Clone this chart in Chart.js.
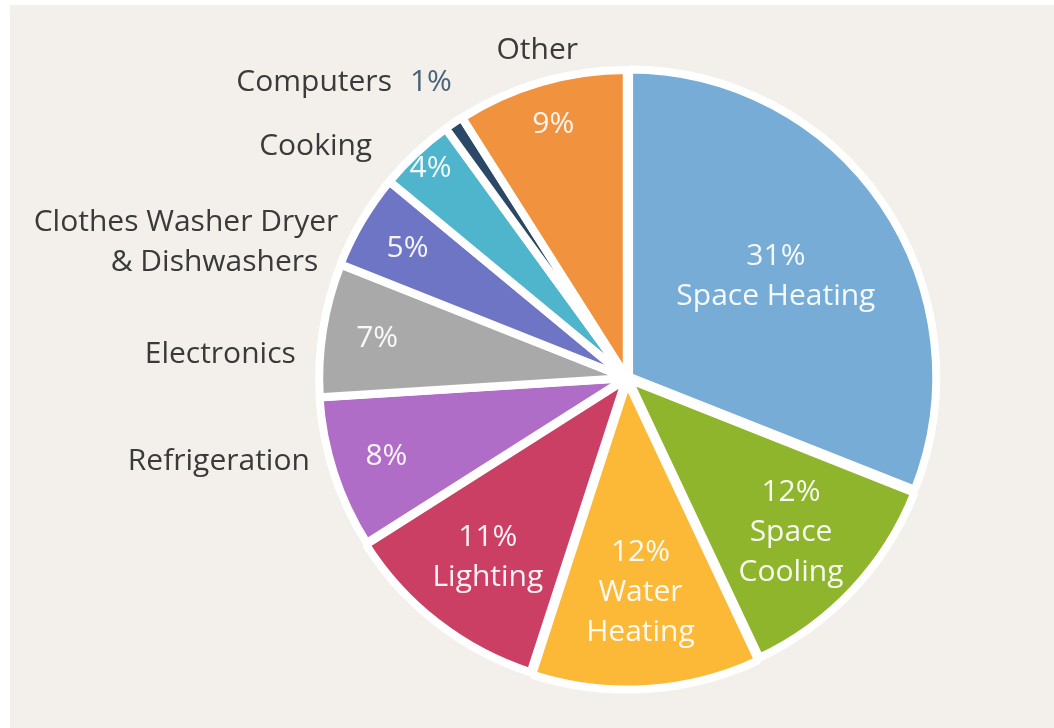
<!DOCTYPE html>
<html>
<head>
<meta charset="utf-8">
<script src="https://cdn.jsdelivr.net/npm/chart.js"></script>
<style>
  html, body { margin: 0; padding: 0; background: #ffffff; }
  #wrap { position: absolute; left: 10px; top: 5px; width: 1044px; height: 723px; background: #f3f0eb; }
</style>
</head>
<body>
<div id="wrap"><canvas id="pie" width="1044" height="723"></canvas></div>
<script>
// data, clockwise from 12 o'clock
const categories = ['Space Heating', 'Space Cooling', 'Water Heating', 'Lighting', 'Refrigeration',
  'Electronics', 'Clothes Washer Dryer & Dishwashers', 'Cooking', 'Computers', 'Other'];
const shares = [31, 12, 12, 11, 8, 7, 5, 4, 1, 9];
const colors = ['#76acd5', '#8fb52c', '#fbb937', '#cc3f64', '#b06dc7',
  '#a9a9a9', '#6e75c5', '#4fb5cc', '#2b4866', '#f1923f'];
const sliceOffsets = [10, 8, 14, 8, 3, 2, 3, 3, 3, 3];

// text inside slices: [lines, radius px from centre]
const insideText = {
  0: [['31%', 'Space Heating'], 180],
  1: [['12%', 'Space', 'Cooling'], 225],
  2: [['12%', 'Water', 'Heating'], 215],
  3: [['11%', 'Lighting'], 227],
  4: [['8%'], 253],
  5: [['7%'], 253],
  6: [['5%'], 255],
  7: [['4%'], 287],
  9: [['9%'], 264]
};
// category names outside: [lines, radius, angle nudge deg, align, x shifts]
const outsideText = {
  9: [['Other'], 340, 0.9, 'center', [0]],
  8: [['Computers'], 373, -3.3, 'right', [-8]],
  7: [['Cooking'], 344, -4.6, 'right', [0]],
  6: [['Clothes Washer Dryer', '& Dishwashers'], 319, -5.4, 'right', [0, -20]],
  5: [['Electronics'], 332, -5, 'right', [0]],
  4: [['Refrigeration'], 328, 3.2, 'right', [0]]
};

const FONT = '30px "Open Sans", "Noto Sans", sans-serif';

const labelPlugin = {
  id: 'sliceLabels',
  afterDatasetsDraw(chart) {
    const ctx = chart.ctx;
    const arcs = chart.getDatasetMeta(0).data;
    ctx.save();
    ctx.font = FONT;
    ctx.textBaseline = 'middle';
    arcs.forEach((arc, i) => {
      const mid = (arc.startAngle + arc.endAngle) / 2;
      const inTxt = insideText[i];
      if (inTxt) {
        const [lines, r] = inTxt;
        const cx = arc.x + Math.cos(mid) * r;
        const cy = arc.y + Math.sin(mid) * r;
        ctx.fillStyle = 'rgba(255,255,255,0.93)';
        ctx.textAlign = 'center';
        lines.forEach((t, k) => {
          ctx.fillText(t, cx, cy + (k - (lines.length - 1) / 2) * 40);
        });
      }
      const outTxt = outsideText[i];
      if (outTxt) {
        const [lines, r, nudge, align, shifts] = outTxt;
        const a = mid + nudge * Math.PI / 180;
        const ax = arc.x + Math.cos(a) * r;
        const ay = arc.y + Math.sin(a) * r;
        ctx.fillStyle = '#3a3a3a';
        ctx.textAlign = align;
        lines.forEach((t, k) => {
          ctx.fillText(t, ax + shifts[k], ay + (k - (lines.length - 1) / 2) * 40);
        });
        if (i === 8) {
          ctx.fillStyle = '#476377';
          ctx.textAlign = 'left';
          ctx.fillText(shares[i] + '%', ax + 10, ay);
        }
      }
    });
    ctx.restore();
  }
};

new Chart(document.getElementById('pie'), {
  type: 'pie',
  data: {
    labels: categories,
    datasets: [{
      data: shares,
      backgroundColor: colors,
      borderColor: '#ffffff',
      borderWidth: 8,
      offset: sliceOffsets
    }]
  },
  options: {
    responsive: false,
    animation: false,
    radius: 307,
    layout: { padding: { left: 200, right: 10, top: 30, bottom: 7 } },
    plugins: { legend: { display: false }, tooltip: { enabled: false } }
  },
  plugins: [labelPlugin]
});
</script>
</body>
</html>
